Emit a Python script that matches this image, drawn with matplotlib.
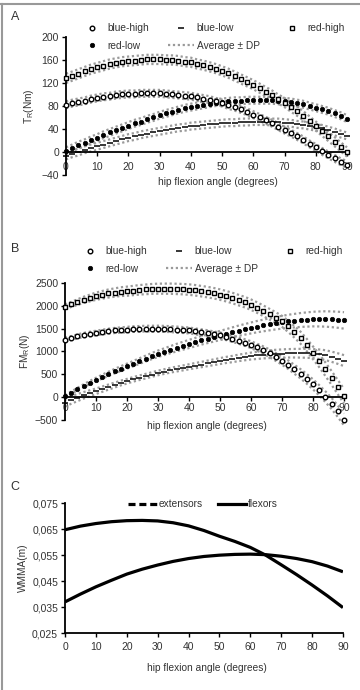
import numpy as np
import matplotlib
matplotlib.use("Agg")
import matplotlib.pyplot as plt
from matplotlib.lines import Line2D

plt.rcParams['font.family'] = ['Liberation Sans', 'DejaVu Sans']

# ---------------- data ----------------
angle = list(range(0, 91, 2))          # hip flexion angle (degrees)
angle_c = list(range(0, 91, 5))

# Panel A: T_R (Nm)
tr_blue_high = [82, 85, 87, 89, 92, 94, 96, 97, 99, 100, 101, 101, 102, 102, 102, 102, 101, 100, 99, 98,
                97, 95, 93, 91, 88, 85, 81, 78, 74, 70, 65, 60, 55, 50, 44, 38, 33, 27, 21, 14,
                8, 1, -5, -11, -17, -22]
tr_blue_low = [-7, -3, 0, 4, 7, 10, 13, 16, 19, 22, 25, 27, 30, 32, 34, 36, 38, 40, 42, 43,
               45, 46, 47, 48, 49, 50, 51, 51, 52, 52, 53, 53, 53, 52, 52, 51, 50, 48, 47, 45,
               43, 41, 38, 35, 31, 28]
tr_red_high = [128, 132, 136, 140, 144, 147, 150, 153, 155, 157, 158, 159, 160, 161, 161, 161, 160, 160, 159, 157,
               156, 153, 151, 148, 145, 141, 137, 132, 127, 122, 117, 111, 105, 99, 92, 86, 78, 71, 63, 54,
               45, 36, 27, 18, 9, 0]
tr_red_low = [2, 7, 12, 16, 21, 25, 30, 34, 38, 42, 46, 50, 53, 57, 60, 64, 67, 70, 73, 76,
              78, 80, 82, 84, 86, 87, 88, 89, 89, 90, 90, 90, 90, 90, 89, 88, 87, 85, 83, 80,
              77, 74, 71, 67, 63, 58]
tr_sd = {'blue-high': 6, 'blue-low': 6, 'red-high': 8, 'red-low': 6}

# Panel B: FM_R (N)
fm_blue_high = [1260, 1295, 1330, 1360, 1385, 1405, 1425, 1445, 1460, 1470, 1480, 1490, 1495, 1500, 1500, 1500,
                1495, 1490, 1480, 1470, 1460, 1440, 1420, 1400, 1375, 1350, 1315, 1280, 1240, 1195, 1150,
                1090, 1030, 960, 880, 800, 710, 610, 510, 400, 280, 150, 10, -140, -310, -490]
fm_blue_low = [-120, -60, -10, 40, 85, 130, 175, 220, 265, 310, 350, 390, 425, 460, 495, 530,
               560, 590, 615, 640, 665, 690, 715, 740, 765, 790, 815, 835, 860, 880, 900,
               915, 930, 940, 950, 955, 960, 962, 962, 960, 955, 940, 920, 885, 845, 800]
fm_red_high = [1980, 2030, 2080, 2130, 2170, 2210, 2240, 2270, 2290, 2310, 2320, 2335, 2350, 2360, 2370, 2375,
               2375, 2375, 2370, 2365, 2355, 2340, 2320, 2300, 2275, 2245, 2210, 2170, 2125, 2080, 2025,
               1960, 1890, 1815, 1740, 1660, 1550, 1430, 1300, 1140, 970, 800, 610, 420, 220, 20]
fm_red_low = [20, 100, 175, 250, 320, 385, 450, 510, 570, 625, 680, 735, 790, 845, 900, 950,
              995, 1040, 1085, 1125, 1165, 1205, 1245, 1280, 1315, 1350, 1385, 1420, 1455, 1485, 1515,
              1545, 1570, 1595, 1620, 1640, 1660, 1675, 1690, 1700, 1710, 1712, 1712, 1705, 1695, 1680]
fm_sd_blue_high = [40, 42, 44, 46, 48, 50, 52, 54, 56, 58, 60, 61, 62, 63, 64, 65, 65, 65, 65, 65, 65, 65, 65,
                   65, 65, 65, 67, 69, 71, 73, 75, 78, 81, 84, 87, 90, 94, 98, 102, 106, 110, 114, 118, 122, 126, 130]
fm_sd_blue_low = [90, 84, 78, 72, 66, 60, 58, 56, 54, 52, 50, 50, 50, 50, 50, 50, 51, 52, 53, 54, 55, 57, 59,
                  61, 63, 65, 67, 69, 71, 73, 75, 78, 81, 84, 87, 90, 92, 94, 96, 98, 100, 104, 108, 112, 116, 120]
fm_sd_red_high = [50, 56, 62, 68, 74, 80, 84, 88, 92, 96, 100, 102, 104, 106, 108, 110, 111, 112, 113, 114, 115,
                  115, 115, 115, 115, 115, 115, 115, 115, 115, 115, 116, 117, 118, 119, 120, 124, 128, 132, 136,
                  140, 144, 148, 152, 156, 160]
fm_sd_red_low = [20, 24, 28, 32, 36, 40, 43, 46, 49, 52, 55, 58, 61, 64, 67, 70, 74, 78, 82, 86, 90, 92, 94,
                 96, 98, 100, 104, 108, 112, 116, 120, 124, 128, 132, 136, 140, 144, 148, 152, 156, 160, 164,
                 168, 172, 176, 180]

# Panel C: WMMA (m)
wmma_extensors = [0.0648, 0.0662, 0.0672, 0.0679, 0.0683, 0.0684, 0.0682, 0.0675, 0.0663, 0.0645,
                  0.0623, 0.0603, 0.0580, 0.0550, 0.0513, 0.0475, 0.0435, 0.0393, 0.0348]
wmma_flexors = [0.0370, 0.0400, 0.0428, 0.0453, 0.0477, 0.0496, 0.0512, 0.0526, 0.0537, 0.0545,
                0.0550, 0.0553, 0.0554, 0.0552, 0.0546, 0.0537, 0.0525, 0.0508, 0.0486]

x_ticks = list(range(0, 91, 10))
a_yticks = [-40, 0, 40, 80, 120, 160, 200]
b_yticks = [-500, 0, 500, 1000, 1500, 2000, 2500]
c_yticks = [0.025, 0.035, 0.045, 0.055, 0.065, 0.075]
c_yticklabels = ['0,025', '0,035', '0,045', '0,055', '0,065', '0,075']

# ---------------- styling ----------------
FS_T = 7.5     # tick labels
FS = 7.3       # labels / legend
TXT = '#333333'
GRAY = '#9a9a9a'
styles = {
    'blue-high': dict(marker='o', ms=3.3, mfc='white', mec='black', mew=1.0, ls='none'),
    'blue-low': dict(marker='_', ms=5, mec='black', mew=1.1, ls='none'),
    'red-high': dict(marker='s', ms=3.0, mfc='white', mec='black', mew=1.0, ls='none'),
    'red-low': dict(marker='o', ms=3.2, mfc='black', mec='black', mew=0.5, ls='none'),
}
sd_style = dict(color=GRAY, lw=1.6, ls=(0, (1, 1.2)))

fig = plt.figure(figsize=(3.6, 6.9), dpi=100)

# frame lines (top and left)
fig.add_artist(Line2D([0, 1], [1 - 3.5 / 690, 1 - 3.5 / 690], transform=fig.transFigure, color='#999999', lw=1.5))
fig.add_artist(Line2D([1.5 / 360, 1.5 / 360], [0, 1 - 3.5 / 690], transform=fig.transFigure, color='#999999', lw=1.5))


def style_axes(ax, ylim, yticks, zero_axis=True, xpad=2):
    ax.set_xlim(0, 90)
    ax.set_ylim(*ylim)
    ax.set_xticks(x_ticks)
    ax.set_yticks(yticks)
    for s in ('top', 'right'):
        ax.spines[s].set_visible(False)
    if zero_axis:
        ax.spines['bottom'].set_position(('data', 0))
    for s in ('left', 'bottom'):
        ax.spines[s].set_linewidth(1.3)
    ax.tick_params(direction='out', length=3, width=1.0, labelsize=FS_T, labelcolor=TXT, pad=2)
    ax.tick_params(axis='x', pad=xpad)


def legend_handles():
    hs = {k: Line2D([], [], **v) for k, v in styles.items()}
    avg = Line2D([], [], **sd_style)
    handles = [hs['blue-high'], hs['red-low'], hs['blue-low'], avg, hs['red-high']]
    labels = ['blue-high', 'red-low', 'blue-low', 'Average ± DP', 'red-high']
    return handles, labels


leg_kw = dict(ncol=3, loc='upper left', frameon=False, fontsize=FS, borderpad=0, handlelength=2.5,
              handletextpad=0.3, columnspacing=1.9, labelspacing=0.75, labelcolor=TXT)

# ---------------- Panel A ----------------
axA = fig.add_axes([0.1833, 0.7464, 0.7806, 0.2])
seriesA = {'blue-high': tr_blue_high, 'blue-low': tr_blue_low, 'red-high': tr_red_high, 'red-low': tr_red_low}
for name, vals in seriesA.items():
    v = np.array(vals, float)
    sd = tr_sd[name]
    axA.plot(angle, v + sd, clip_on=False, **sd_style)
    axA.plot(angle, v - sd, clip_on=False, **sd_style)
for name in ['red-low', 'blue-low', 'blue-high', 'red-high']:
    axA.plot(angle, seriesA[name], clip_on=False, zorder=3, **styles[name])
style_axes(axA, (-40, 200), a_yticks, xpad=4)
axA.set_ylabel('T$_\\mathregular{R}$(Nm)', fontsize=FS, color=TXT)
axA.yaxis.set_label_coords(-0.107, 0.5)
axA.set_xlabel('hip flexion angle (degrees)', fontsize=FS, color=TXT)
axA.xaxis.set_label_coords(0.54, -0.015)
h, l = legend_handles()
fig.legend(h, l, bbox_to_anchor=(0.205, 1 - 18 / 690), **leg_kw)
fig.text(0.03, 1 - 17 / 690, 'A', fontsize=9, color=TXT, va='center', ha='left')

# ---------------- Panel B ----------------
axB = fig.add_axes([0.1806, 0.3913, 0.775, 0.1986])
seriesB = {'blue-high': (fm_blue_high, fm_sd_blue_high), 'blue-low': (fm_blue_low, fm_sd_blue_low),
           'red-high': (fm_red_high, fm_sd_red_high), 'red-low': (fm_red_low, fm_sd_red_low)}
for name, (vals, sds) in seriesB.items():
    v = np.array(vals, float)
    s = np.array(sds, float)
    axB.plot(angle, v + s, clip_on=False, **sd_style)
    axB.plot(angle, v - s, clip_on=False, **sd_style)
for name in ['red-low', 'blue-low', 'blue-high', 'red-high']:
    axB.plot(angle, seriesB[name][0], clip_on=False, zorder=3, **styles[name])
style_axes(axB, (-500, 2500), b_yticks, xpad=1.5)
axB.set_ylabel('FM$_\\mathregular{R}$(N)', fontsize=FS, color=TXT)
axB.yaxis.set_label_coords(-0.118, 0.5)
axB.set_xlabel('hip flexion angle (degrees)', fontsize=FS, color=TXT)
axB.xaxis.set_label_coords(0.51, -0.007)
h, l = legend_handles()
fig.legend(h, l, bbox_to_anchor=(0.2, 1 - 241 / 690), **leg_kw)
fig.text(0.03, 1 - 249 / 690, 'B', fontsize=9, color=TXT, va='center', ha='left')

# ---------------- Panel C ----------------
axC = fig.add_axes([0.1806, 0.0826, 0.772, 0.188])
axC.plot(angle_c, wmma_extensors, color='black', lw=2.3, solid_capstyle='butt')
axC.plot(angle_c, wmma_flexors, color='black', lw=2.3, solid_capstyle='butt')
style_axes(axC, (0.025, 0.075), c_yticks, zero_axis=False, xpad=3.5)
axC.set_yticklabels(c_yticklabels)
axC.set_ylabel('WMMA(m)', fontsize=FS, color=TXT)
axC.yaxis.set_label_coords(-0.133, 0.5)
axC.set_xlabel('hip flexion angle (degrees)', fontsize=FS, color=TXT)
axC.xaxis.set_label_coords(0.51, -0.23)
hc = [Line2D([], [], color='black', lw=2.3, ls=(0, (2.2, 1.2))),
      Line2D([], [], color='black', lw=2.3)]
fig.legend(hc, ['extensors', 'flexors'], ncol=2, loc='upper left', bbox_to_anchor=(0.342, 1 - 494 / 690),
           frameon=False, fontsize=FS, borderpad=0, handlelength=2.8, handletextpad=0.2,
           columnspacing=1.5, labelcolor=TXT)
fig.text(0.03, 1 - 487 / 690, 'C', fontsize=9, color=TXT, va='center', ha='left')

fig.savefig('out.png', dpi=100)
